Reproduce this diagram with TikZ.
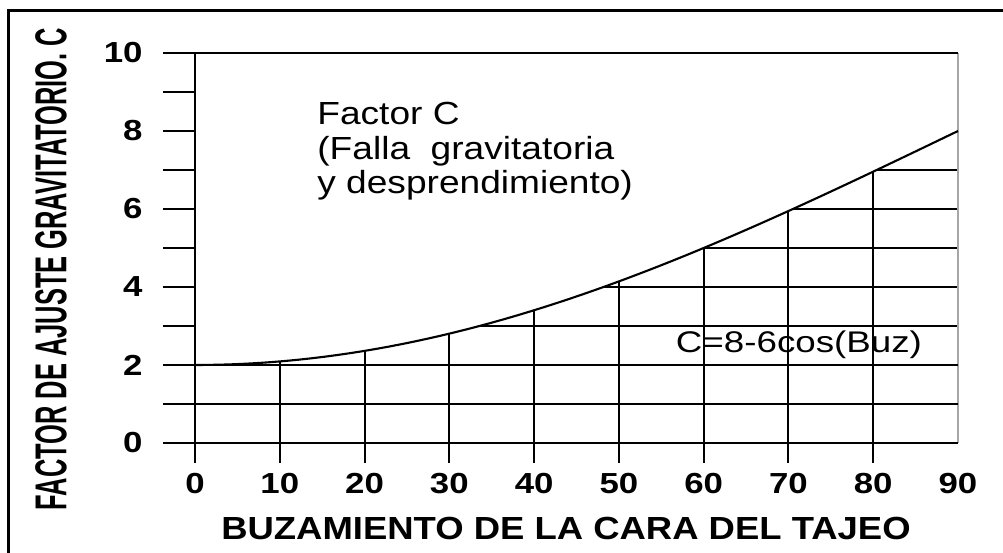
\documentclass[tikz,border=0pt]{standalone}
\usepackage{fontspec}
\setmainfont{Liberation Sans}
\begin{document}
\begin{tikzpicture}[x=0.16956cm,y=0.78cm,
        gridline/.style={line width=1.1pt,black},
        ticklabel/.style={font=\fontsize{16.5}{18}\selectfont\bfseries,inner sep=0pt,xscale=1.2}]
        \useasboundingbox (-23.0,-2.795) rectangle (95.31,11.359);
        %% Frame
        \draw[line width=1.7pt] (-21.94,-3) -- (-21.94,11.10) -- (96,11.10);
        %% Grid below the curve
        \begin{scope}
            \clip plot[domain=0:90,samples=60] (\x,{8-6*cos(\x)}) -- (90,-1) -- (0,-1) -- cycle;
            \foreach \y in {3,...,7} \draw[gridline] (0,\y) -- (90,\y);
            \foreach \x in {10,20,...,80} \draw[gridline] (\x,-0.51) -- (\x,10);
        \end{scope}
        %% Axes
        \draw[line width=1.7pt,black!35] (90,0) -- (90,10);
        \foreach \y in {0,...,10} \draw[gridline] (-3.77,\y) -- (0,\y);
        \foreach \y in {0,1,2,10} \draw[gridline] (0,\y) -- (90,\y);
        \draw[gridline] (0,-0.51) -- (0,10);
        %% Curve
        \draw[line width=1.2pt] plot[domain=0:90,samples=60] (\x,{8-6*cos(\x)});
        %% Labels
        \foreach \y in {0,2,...,10} \node[ticklabel,anchor=east] (yl\y) at (-6.13,\y) {\y};
        \foreach \x in {0,10,...,90} \node[ticklabel] (xl\x) at (\x,-1.051) {\x};
        \node[font=\fontsize{18.2}{20}\selectfont\bfseries,inner sep=0pt,xscale=1.14,anchor=base] (xtitle) at (43.76,-2.487) {BUZAMIENTO DE LA CARA DEL TAJEO};
        \node[font=\fontsize{25.4}{27}\selectfont\bfseries,inner sep=0pt,rotate=90,xscale=0.57] (ytitle) at (-16.99,4.462) {FACTOR DE AJUSTE GRAVITATORIO. C};
        \node[font=\fontsize{18.2}{19.6}\selectfont,inner sep=0pt,xscale=1.16,anchor=north west,align=left] (factor) at (14.39,8.744) {Factor C\\(Falla\ \ gravitatoria\\y desprendimiento)};
        \node[font=\fontsize{17}{19}\selectfont,inner sep=0pt,xscale=1.23,anchor=base] (formula) at (71.24,2.308) {C=8-6cos(Buz)};
    \end{tikzpicture}
\end{document}
